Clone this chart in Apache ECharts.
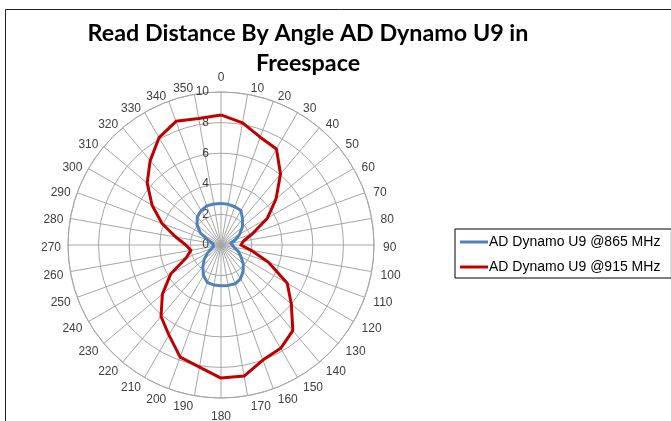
<!DOCTYPE html>
<html>
<head>
<meta charset="utf-8">
<script src="https://cdn.jsdelivr.net/npm/echarts@6/dist/echarts.min.js"></script>
<style>
html,body{margin:0;padding:0;background:#fff;}
#chart{width:671px;height:421px;}
</style>
</head>
<body>
<div id="chart"></div>
<script>
// Angles (degrees) of the 36 spokes
const angles = [0,10,20,30,40,50,60,70,80,90,100,110,120,130,140,150,160,170,
                180,190,200,210,220,230,240,250,260,270,280,290,300,310,320,330,340,350];
// Read distance at 865 MHz
const dist865 = [2.72,2.7,2.66,2.6,2.2,1.83,1.4,1.0,0.65,0.55,0.87,1.2,1.5,1.9,2.25,2.55,2.7,2.68,
                 2.66,2.66,2.6,2.3,1.85,1.42,1.0,0.65,0.5,0.45,0.55,0.87,1.55,2.05,2.4,2.6,2.72,2.72];
// Read distance at 915 MHz
const dist915 = [8.5,8.1,7.5,7.25,6.05,4.7,3.5,2.2,1.5,1.3,2.0,3.3,5.0,6.0,7.3,7.8,8.0,8.7,
                 8.7,8.1,7.8,6.8,6.1,5.0,3.8,2.4,2.0,2.3,3.0,4.1,5.2,6.3,7.2,8.1,8.6,8.4];
const seriesNames = ['AD Dynamo U9 @865 MHz', 'AD Dynamo U9 @915 MHz'];
const radiusTicks = [0,2,4,6,8,10];
const titleText = 'Read Distance By Angle AD Dynamo U9 in\nFreespace';

function closedData(vals){
  const d = angles.map((a,i)=>[vals[i], a]);
  d.push([vals[0], 360]);
  return d;
}

const labelFont = {fontFamily:'Liberation Sans', fontSize:12, color:'#404040'};
const chart = echarts.init(document.getElementById('chart'), null, {renderer:'canvas'});
chart.setOption({
  animation:false,
  backgroundColor:'#fff',
  title:{
    text:titleText,
    left:303, top:13, textAlign:'center',
    textStyle:{fontFamily:'Lato', fontWeight:'bold', fontSize:23.3, color:'#000', lineHeight:30}
  },
  legend:{
    orient:'vertical', left:455, top:229,
    padding:[5,11,3,5], itemGap:9, itemWidth:28, itemHeight:3, icon:'rect',
    borderColor:'#000', borderWidth:1,
    textStyle:{fontFamily:'Liberation Sans', fontSize:14, color:'#000', padding:[0,0,0,-4], lineHeight:16},
    data:seriesNames
  },
  polar:{center:[221,245], radius:153},
  angleAxis:{
    type:'value', min:0, max:360, interval:10, startAngle:90, clockwise:true,
    axisLine:{show:true, lineStyle:{color:'#a6a6a6', width:1}},
    axisTick:{show:false},
    axisLabel:{show:false},
    splitLine:{show:true, lineStyle:{color:'#a6a6a6', width:1}}
  },
  radiusAxis:{
    type:'value', min:radiusTicks[0], max:radiusTicks[radiusTicks.length-1], interval:2,
    axisLine:{show:false}, axisTick:{show:false},
    axisLabel:Object.assign({margin:12}, labelFont),
    splitLine:{show:true, lineStyle:{color:'#a6a6a6', width:1}}
  },
  series:[
    {name:seriesNames[0], type:'line', coordinateSystem:'polar', symbol:'none',
     data:closedData(dist865), lineStyle:{color:'#4f81bd', width:3, join:'round'}, itemStyle:{color:'#4f81bd'}},
    {name:seriesNames[1], type:'line', coordinateSystem:'polar', symbol:'none',
     data:closedData(dist915), lineStyle:{color:'#c00000', width:3, join:'round'}, itemStyle:{color:'#c00000'}}
  ]
});

// Angle labels placed Excel-style (left/right aligned at the side, centred at top/bottom),
// positioned through the polar coordinate system of the chart.
const rMax = radiusTicks[radiusTicks.length-1];
const c0 = chart.convertToPixel({polarIndex:0}, [0, 0]);
const cTop = chart.convertToPixel({polarIndex:0}, [rMax, 0]);
const R = c0[1] - cTop[1];
const labelEls = angles.map(a => {
  const s = Math.sin(a*Math.PI/180), co = Math.cos(a*Math.PI/180);
  const vertical = Math.abs(s) < 0.05;
  const rr = rMax * (R + (vertical ? (co > 0 ? 10 : 8) : 7)) / R;
  const p = chart.convertToPixel({polarIndex:0}, [rr, a]);
  return {
    type:'text', silent:true,
    x:p[0] + (s > 0.05 ? 2 : 0), y:p[1] + 3 - 1.3*co,
    style:{text:String(a), font:'12px "Liberation Sans"', fill:labelFont.color,
      align: vertical ? 'center' : (s > 0 ? 'left' : 'right'),
      verticalAlign: vertical ? (co > 0 ? 'bottom' : 'top') : 'middle'}
  };
});
labelEls.push({
  type:'rect', silent:true,
  shape:{x:5.5, y:9.5, width:700, height:500},
  style:{fill:null, stroke:'#222', lineWidth:1}
});
chart.setOption({graphic:labelEls});
</script>
</body>
</html>
